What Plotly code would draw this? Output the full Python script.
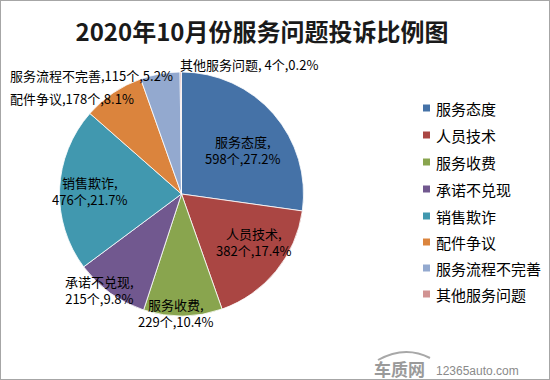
import plotly.graph_objects as go

W, H = 550, 380

categories = ["服务态度", "人员技术", "服务收费", "承诺不兑现", "销售欺诈", "配件争议", "服务流程不完善", "其他服务问题"]
counts = [598, 382, 229, 215, 476, 178, 115, 4]
colors = ["#4572A7", "#AA4643", "#89A54E", "#71588F", "#4198AF", "#DB843D", "#93A9CF", "#D19392"]

title_text = "2020年10月份服务问题投诉比例图"
watermark_logo = "车质网"
watermark_site = "12365auto.com"

# label placement (pixel centers / anchors) and style per slice
label_pos = [
    (243, 150, "center", True),
    (254, 242, "center", True),
    (176, 313, "center", True),
    (99, 290, "center", True),
    (90, 191, "center", True),
    (8, 98, "left", False),
    (8, 76, "left", False),
    (178, 65, "left", False),
]

FONT = "Noto Sans CJK SC, Microsoft YaHei, sans-serif"

def px(x):
    return x / W

def py(y):
    return 1 - y / H

total = sum(counts)

fig = go.Figure()
fig.add_trace(go.Pie(
    labels=categories,
    values=counts,
    sort=False,
    direction="clockwise",
    rotation=0,
    marker=dict(colors=colors, line=dict(color="#ffffff", width=0.8)),
    textinfo="none",
    hoverinfo="label+value+percent",
    showlegend=False,
    domain=dict(x=[px(59), px(304)], y=[py(316), py(72)]),
))

annotations = []
for i, (name, v) in enumerate(zip(categories, counts)):
    pct = f"{v / total * 100:.1f}%"
    x, y, anchor, two = label_pos[i]
    if two:
        txt = f"{name},<br>{v}个,{pct}"
    elif i == 7:
        txt = f"{name}, {v}个,{pct}"
    else:
        txt = f"{name},{v}个,{pct}"
    annotations.append(dict(
        x=px(x), y=py(y), xref="paper", yref="paper", text=txt, showarrow=False,
        xanchor=anchor, yanchor="middle", align="center",
        font=dict(family=FONT, size=13, color="#000000"),
    ))

# manual legend
leg_y = [108, 135, 162, 189, 216, 242, 268, 294]
shapes = []
for i, name in enumerate(categories):
    yc = leg_y[i]
    shapes.append(dict(type="rect", xref="paper", yref="paper",
                       x0=px(423), x1=px(430), y0=py(yc + 3.5), y1=py(yc - 3.5),
                       fillcolor=colors[i], line=dict(width=0)))
    annotations.append(dict(
        x=px(434), y=py(yc), xref="paper", yref="paper", text=name, showarrow=False,
        xanchor="left", yanchor="middle",
        font=dict(family=FONT, size=15, color="#000000"),
    ))

# watermark
annotations.append(dict(x=px(372), y=py(368), xref="paper", yref="paper", text=f"<b>{watermark_logo}</b>",
                        showarrow=False, xanchor="left", yanchor="middle",
                        font=dict(family=FONT, size=17, color="#9a9a9a")))
annotations.append(dict(x=px(434), y=py(371), xref="paper", yref="paper", text=watermark_site,
                        showarrow=False, xanchor="left", yanchor="middle",
                        font=dict(family="Arial, Liberation Sans, sans-serif", size=12, color="#8a8a8a")))
shapes.append(dict(type="path", xref="paper", yref="paper",
                   path=f"M {px(378)} {py(360)} Q {px(405)} {py(345)} {px(430)} {py(358)}",
                   line=dict(color="#a8a8a8", width=2)))

# border
shapes.append(dict(type="rect", xref="paper", yref="paper", x0=0, x1=1, y0=0, y1=1,
                   line=dict(color="#a6a6a6", width=2)))

fig.update_layout(
    width=W, height=H,
    margin=dict(l=0, r=0, t=0, b=0),
    paper_bgcolor="#ffffff",
    plot_bgcolor="#ffffff",
    title=dict(text=f"<b>{title_text}</b>", x=px(262), xanchor="center", y=py(33), yanchor="middle",
               font=dict(family=FONT, size=24, color="#1a1a1a")),
    annotations=annotations,
    shapes=shapes,
)

fig.write_html("out.html", config={"displayModeBar": False},
               post_script="document.body.style.margin='0';document.body.style.padding='0';document.body.style.overflow='hidden';")
